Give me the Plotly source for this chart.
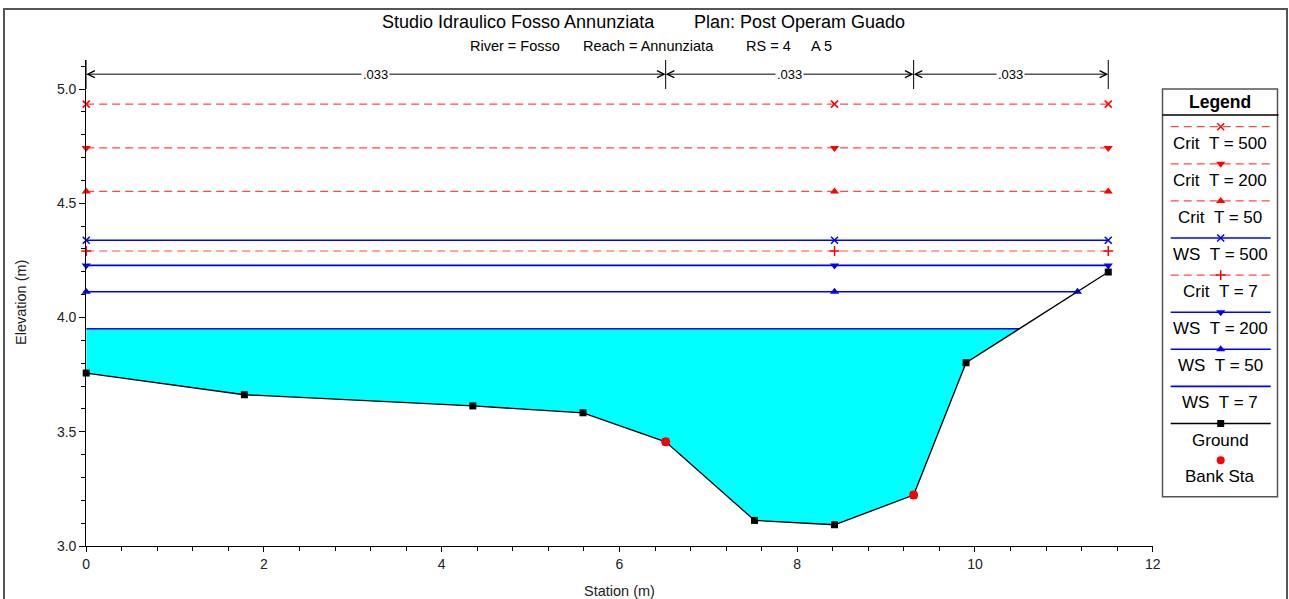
import numpy as np
import plotly.graph_objects as go

# ---------------- data ----------------
ground_sta = [0.0, 1.78, 4.35, 5.59, 6.52, 7.52, 8.42, 9.31, 9.90, 11.50]
ground_elev = [3.757, 3.662, 3.613, 3.583, 3.456, 3.112, 3.093, 3.223, 3.802, 4.199]
bank_sta = [6.52, 9.31]
bank_elev = [3.456, 3.223]

profile_names = ["Crit T = 500", "Crit T = 200", "Crit T = 50", "WS T = 500",
                 "Crit T = 7", "WS T = 200", "WS T = 50", "WS T = 7"]
profile_elev = [4.934, 4.742, 4.552, 4.338, 4.291, 4.228, 4.113, 3.951]
profile_kind = ["crit", "crit", "crit", "ws", "crit", "ws", "ws", "ws"]
profile_symbol = ["x-thin", "triangle-down", "triangle-up", "x-thin",
                  "cross-thin", "triangle-down", "triangle-up", None]

n_bounds = [0.0, 6.52, 9.31, 11.50]
n_values = [".033", ".033", ".033"]

title_parts = ["Studio Idraulico Fosso Annunziata", "Plan: Post Operam Guado"]
subtitle_parts = ["River = Fosso", "Reach = Annunziata", "RS = 4", "A 5"]

# ---------------- helpers ----------------
W, H = 1289, 599
FONT = "Arial, Liberation Sans, sans-serif"


def px(x):
    return x / W


def py(y):
    return 1 - y / H


gx = np.array(ground_sta)
gy = np.array(ground_elev)
i_min = int(np.argmin(gy))


def right_end(h):
    for i in range(i_min, len(gx) - 1):
        if gy[i] <= h <= gy[i + 1]:
            return gx[i] + (h - gy[i]) / (gy[i + 1] - gy[i]) * (gx[i + 1] - gx[i])
    return gx[-1]


fig = go.Figure()

# water fill for the lowest profile
ws = profile_elev[-1]
xr = right_end(ws)
inside = gx < xr
poly_x = [gx[0], xr] + list(gx[inside][::-1])
poly_y = [ws, ws] + list(gy[inside][::-1])
fig.add_trace(go.Scatter(x=poly_x, y=poly_y, fill="toself", fillcolor="#00FFFF",
                         mode="none", showlegend=False, hoverinfo="skip"))

RED = "#FF0000"
BLUE = "#0000FF"


def line_style(kind):
    if kind == "crit":
        return dict(color="rgba(255,40,40,0.85)", width=1.2, dash="8px,5px")
    return dict(color=BLUE, width=1.6)


def marker_style(kind, sym):
    col = RED if kind == "crit" else BLUE
    if sym is None:
        return None
    if "thin" in sym:
        return dict(symbol=sym, size=7, color=col, line=dict(color=col, width=1.5))
    return dict(symbol=sym, size=8, color=col, line=dict(width=0))


for name, h, kind, sym in zip(profile_names, profile_elev, profile_kind, profile_symbol):
    xe = right_end(h)
    fig.add_trace(go.Scatter(x=[gx[0], xe], y=[h, h], mode="lines",
                             line=line_style(kind), showlegend=False,
                             hoverinfo="skip", cliponaxis=False))
    if sym is not None:
        fig.add_trace(go.Scatter(x=[gx[0], gx[i_min], xe], y=[h, h, h], mode="markers",
                                 marker=marker_style(kind, sym), showlegend=False,
                                 hoverinfo="skip", cliponaxis=False))

# ground
fig.add_trace(go.Scatter(x=ground_sta, y=ground_elev, mode="lines+markers",
                         line=dict(color="black", width=1.3),
                         marker=dict(symbol="square", size=7, color="black"),
                         showlegend=False, hoverinfo="skip", cliponaxis=False))
# bank stations
fig.add_trace(go.Scatter(x=bank_sta, y=bank_elev, mode="markers",
                         marker=dict(symbol="circle", size=9, color=RED),
                         showlegend=False, hoverinfo="skip", cliponaxis=False))

# ---------------- Manning n dimension lines ----------------
Y_TOP = 5.127
Y_ARROW = 5.065
shapes = []
annotations = []
for b in n_bounds:
    shapes.append(dict(type="line", xref="x", yref="y", x0=b, x1=b, y0=5.0, y1=Y_TOP,
                       line=dict(color="black", width=1)))
for (a, b), lab in zip(zip(n_bounds[:-1], n_bounds[1:]), n_values):
    mid = (a + b) / 2
    for end in (a, b):
        annotations.append(dict(xref="x", yref="y", axref="x", ayref="y",
                                x=end, y=Y_ARROW, ax=mid, ay=Y_ARROW, text="",
                                showarrow=True, arrowhead=5, arrowsize=1.4,
                                arrowwidth=1, arrowcolor="black", standoff=0,
                                startstandoff=0))
    annotations.append(dict(xref="x", yref="y", x=mid, y=Y_ARROW, text=lab,
                            showarrow=False, bgcolor="white", borderpad=1,
                            font=dict(family=FONT, size=13, color="black")))

# ---------------- titles ----------------
for txt, cx in zip(title_parts, [518, 800]):
    annotations.append(dict(xref="paper", yref="paper", x=px(cx), y=py(22), text=txt,
                            showarrow=False, xanchor="center", yanchor="middle",
                            font=dict(family=FONT, size=18, color="black")))
for txt, cx in zip(subtitle_parts, [514.5, 648, 768, 821.5]):
    annotations.append(dict(xref="paper", yref="paper", x=px(cx), y=py(46), text=txt,
                            showarrow=False, xanchor="center", yanchor="middle",
                            font=dict(family=FONT, size=14.5, color="black")))
annotations.append(dict(xref="paper", yref="paper", x=px(21), y=py(303), text="Elevation (m)",
                        textangle=-90, showarrow=False, xanchor="center", yanchor="middle",
                        font=dict(family=FONT, size=14.5, color="#222")))
annotations.append(dict(xref="paper", yref="paper", x=px(619), y=py(591), text="Station (m)",
                        showarrow=False, xanchor="center", yanchor="middle",
                        font=dict(family=FONT, size=14.5, color="#222")))

# ---------------- outer frame ----------------
shapes.append(dict(type="rect", xref="paper", yref="paper", x0=px(4), x1=px(1287),
                   y0=py(612), y1=py(9), line=dict(color="#555", width=2)))

# ---------------- legend (manual) ----------------
LX0, LX1, LY0, LY1 = 1162.5, 1277.5, 89.0, 496.7
shapes.append(dict(type="rect", xref="paper", yref="paper", x0=px(LX0), x1=px(LX1),
                   y0=py(LY1), y1=py(LY0), line=dict(color="#555", width=1.5)))
shapes.append(dict(type="line", xref="paper", yref="paper", x0=px(LX0), x1=px(LX1 + 1),
                   y0=py(115), y1=py(115), line=dict(color="black", width=1.5)))
annotations.append(dict(xref="paper", yref="paper", x=px(1220), y=py(102), text="<b>Legend</b>",
                        showarrow=False, xanchor="center", yanchor="middle",
                        font=dict(family=FONT, size=17.5, color="black")))

leg_x0, leg_x1, leg_xc = 1170.7, 1270.7, 1220.7
first_line, pitch, text_off = 126.7, 37.1, 16.5
legend_items = list(zip(profile_names, profile_kind, profile_symbol)) + [("Ground", "ground", "square")]
for k, (name, kind, sym) in enumerate(legend_items):
    ly = first_line + k * pitch
    if kind == "ground":
        lstyle = dict(color="black", width=1.3)
        mstyle = dict(symbol="square", size=7, color="black")
    else:
        lstyle = line_style(kind)
        mstyle = marker_style(kind, sym)
    fig.add_trace(go.Scatter(x=[leg_x0, leg_x1], y=[ly, ly], mode="lines", line=lstyle,
                             xaxis="x2", yaxis="y2", showlegend=False, hoverinfo="skip"))
    if mstyle is not None:
        fig.add_trace(go.Scatter(x=[leg_xc], y=[ly], mode="markers", marker=mstyle,
                                 xaxis="x2", yaxis="y2", showlegend=False, hoverinfo="skip",
                                 cliponaxis=False))
    label = name.replace(" T", "\u00a0\u00a0T", 1)
    annotations.append(dict(xref="x2", yref="y2", x=leg_xc - 0.5, y=ly + text_off, text=label,
                            showarrow=False, xanchor="center", yanchor="middle",
                            font=dict(family=FONT, size=17, color="black")))
# Bank Sta
ly = first_line + len(legend_items) * pitch - 0.4
fig.add_trace(go.Scatter(x=[leg_xc], y=[ly], mode="markers",
                         marker=dict(symbol="circle", size=8, color=RED),
                         xaxis="x2", yaxis="y2", showlegend=False, hoverinfo="skip",
                         cliponaxis=False))
annotations.append(dict(xref="x2", yref="y2", x=leg_xc - 0.5, y=ly + text_off, text="Bank Sta",
                        showarrow=False, xanchor="center", yanchor="middle",
                        font=dict(family=FONT, size=17, color="black")))

# ---------------- layout ----------------
tickfont = dict(family=FONT, size=14, color="#222")
fig.update_layout(
    width=W, height=H,
    margin=dict(l=0, r=0, t=0, b=0, pad=0, autoexpand=False),
    paper_bgcolor="white", plot_bgcolor="white",
    showlegend=False,
    shapes=shapes, annotations=annotations,
    xaxis=dict(domain=[px(86.2), px(1152.7)], range=[0, 12], showgrid=False, zeroline=False,
               showline=True, linecolor="black", linewidth=1, ticks="outside", ticklen=5,
               tickcolor="black", tick0=0, dtick=2, tickfont=tickfont, automargin=False,
               minor=dict(ticks="outside", ticklen=4, tickcolor="black", tick0=0, dtick=0.4),
               anchor="y"),
    yaxis=dict(domain=[py(546), py(60)], range=[3.0, Y_TOP], showgrid=False, zeroline=False,
               showline=True, linecolor="black", linewidth=1, ticks="outside", ticklen=6,
               tickcolor="black", tick0=3.0, dtick=0.5, tickformat=".1f", tickfont=tickfont,
               automargin=False,
               minor=dict(ticks="outside", ticklen=4, tickcolor="black", tick0=3.0, dtick=0.1),
               anchor="x"),
    xaxis2=dict(domain=[px(LX0), px(LX1)], range=[LX0, LX1], visible=False, anchor="y2"),
    yaxis2=dict(domain=[py(LY1), py(LY0)], range=[LY1, LY0], visible=False, anchor="x2"),
)

fig.write_html("out.html", config={"displayModeBar": False},
               post_script="document.body.style.margin='0';document.body.style.overflow='hidden';")
